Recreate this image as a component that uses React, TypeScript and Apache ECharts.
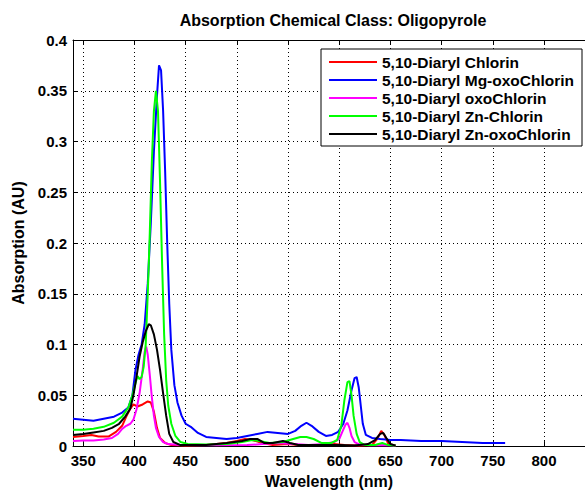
import React, { useEffect, useRef } from "react";
import * as echarts from "echarts";

const FONT = "'Liberation Sans', Arial, Helvetica, sans-serif";

const titleText = "Absorption Chemical Class: Oligopyrole";
const xName = "Wavelength (nm)";
const yName = "Absorption (AU)";

const seriesNames = [
  "5,10-Diaryl Chlorin",
  "5,10-Diaryl Mg-oxoChlorin",
  "5,10-Diaryl oxoChlorin",
  "5,10-Diaryl Zn-Chlorin",
  "5,10-Diaryl Zn-oxoChlorin",
];
const seriesColors = ["#ff0000", "#0000ff", "#ff00ff", "#00ff00", "#000000"];

const xTicks = [350, 400, 450, 500, 550, 600, 650, 700, 750, 800];

// 5,10-Diaryl Chlorin
const chlorinWl = [340, 350, 358, 365, 375, 382, 388, 392, 396, 399, 403, 408, 413, 416, 419, 422, 425, 430, 436, 450, 470, 490, 500, 508, 515, 525, 535, 550, 560, 580, 595, 605, 620, 632, 637, 641, 644, 648, 655];
const chlorinAbs = [0.009, 0.010, 0.011, 0.0095, 0.0095, 0.014, 0.020, 0.029, 0.037, 0.041, 0.039, 0.041, 0.044, 0.043, 0.034, 0.018, 0.008, 0.003, 0.001, 0.0005, 0.001, 0.003, 0.005, 0.007, 0.006, 0.003, 0.001, 0.002, 0.001, 0.001, 0.002, 0.001, 0.0005, 0.001, 0.007, 0.015, 0.011, 0.002, 0.0005];

// 5,10-Diaryl Mg-oxoChlorin
const mgOxoWl = [340, 350, 360, 370, 380, 388, 394, 398, 401, 404, 407, 410, 413, 416, 419, 422, 424, 426, 428, 430, 432, 434, 436, 439, 442, 446, 450, 455, 462, 470, 480, 490, 500, 510, 520, 530, 540, 550, 557, 563, 568, 573, 580, 587, 593, 599, 604, 608, 612, 615, 617, 619, 621, 623, 626, 632, 640, 650, 660, 680, 700, 720, 740, 762];
const mgOxoAbs = [0.027, 0.026, 0.025, 0.027, 0.029, 0.033, 0.038, 0.05, 0.075, 0.09, 0.10, 0.12, 0.16, 0.22, 0.29, 0.345, 0.375, 0.37, 0.33, 0.27, 0.2, 0.14, 0.095, 0.06, 0.043, 0.03, 0.022, 0.019, 0.013, 0.009, 0.008, 0.007, 0.008, 0.010, 0.012, 0.014, 0.013, 0.012, 0.015, 0.02, 0.023, 0.02, 0.014, 0.010, 0.011, 0.014, 0.022, 0.035, 0.055, 0.067, 0.068, 0.058, 0.04, 0.022, 0.011, 0.008, 0.007, 0.006, 0.006, 0.005, 0.005, 0.004, 0.003, 0.003];

// 5,10-Diaryl oxoChlorin
const oxoWl = [340, 350, 360, 370, 378, 384, 388, 392, 396, 399, 402, 405, 408, 410, 411.5, 413, 415, 417, 419, 421, 424, 428, 433, 445, 480, 510, 525, 540, 555, 570, 585, 595, 600, 603, 606, 608, 610, 612, 615, 620, 630, 645, 655];
const oxoAbs = [0.005, 0.0055, 0.0056, 0.0065, 0.008, 0.012, 0.017, 0.020, 0.022, 0.026, 0.036, 0.052, 0.075, 0.093, 0.098, 0.09, 0.07, 0.048, 0.03, 0.018, 0.009, 0.004, 0.002, 0.001, 0.0008, 0.001, 0.002, 0.003, 0.002, 0.001, 0.002, 0.004, 0.007, 0.014, 0.021, 0.023, 0.018, 0.01, 0.004, 0.0015, 0.0008, 0.001, 0.0005];

// 5,10-Diaryl Zn-Chlorin
const znWl = [340, 350, 360, 370, 380, 388, 394, 398, 401, 403, 405, 407, 409, 411, 413, 415, 417, 419, 421, 423, 425, 427, 429, 431, 433, 436, 440, 445, 452, 470, 490, 505, 515, 522, 532, 545, 555, 562, 568, 575, 583, 592, 598, 602, 605, 608, 610, 612, 614, 617, 620, 625, 635, 642, 648, 655];
const znAbs = [0.016, 0.016, 0.017, 0.019, 0.023, 0.029, 0.038, 0.05, 0.062, 0.069, 0.066, 0.068, 0.078, 0.10, 0.15, 0.21, 0.28, 0.33, 0.35, 0.33, 0.26, 0.18, 0.11, 0.065, 0.04, 0.022, 0.01, 0.004, 0.002, 0.0015, 0.002, 0.004, 0.006, 0.005, 0.003, 0.004, 0.007, 0.009, 0.009, 0.007, 0.003, 0.003, 0.006, 0.02, 0.045, 0.063, 0.064, 0.05, 0.03, 0.012, 0.004, 0.001, 0.001, 0.003, 0.001, 0.0005];

// 5,10-Diaryl Zn-oxoChlorin
const znOxoWl = [340, 350, 360, 370, 378, 385, 391, 396, 399, 402, 405, 408, 411, 414, 416, 419, 422, 425, 428, 431, 434, 438, 445, 470, 490, 505, 513, 520, 527, 535, 545, 552, 560, 580, 600, 615, 628, 635, 640, 643, 646, 650, 655];
const znOxoAbs = [0.011, 0.012, 0.0135, 0.015, 0.018, 0.022, 0.029, 0.037, 0.05, 0.068, 0.088, 0.102, 0.113, 0.12, 0.119, 0.11, 0.095, 0.075, 0.052, 0.03, 0.012, 0.004, 0.001, 0.001, 0.003, 0.005, 0.007, 0.007, 0.003, 0.003, 0.005, 0.003, 0.001, 0.001, 0.001, 0.0005, 0.002, 0.006, 0.012, 0.013, 0.008, 0.002, 0.0005];

const seriesWl = [chlorinWl, mgOxoWl, oxoWl, znWl, znOxoWl];
const seriesAbs = [chlorinAbs, mgOxoAbs, oxoAbs, znAbs, znOxoAbs];

const textBase = { fontFamily: FONT, fontWeight: "bold" as const, color: "#000" };

export default function App() {
  const ref = useRef<HTMLDivElement>(null);
  useEffect(() => {
    if (!ref.current) return;
    const chart = echarts.init(ref.current, null, { renderer: "svg" });
    const gridLine = { show: true, lineStyle: { type: [1, 3], color: "#000", width: 1 } };
    chart.setOption({
      animation: false,
      backgroundColor: "#fff",
      grid: { left: 73, top: 40, width: 521, height: 411, containLabel: false },
      graphic: [
        {
          type: "text",
          x: 333,
          y: 20,
          style: { text: titleText, textAlign: "center", textVerticalAlign: "middle", font: `bold 16px ${FONT}`, fill: "#000" },
        },
        {
          type: "rect",
          z: 3,
          shape: { x: 321, y: 49, width: 261, height: 97 },
          style: { fill: "#fff", stroke: "#000", lineWidth: 1 },
        },
      ],
      legend: {
        orient: "vertical",
        left: 329,
        top: 53,
        padding: 0,
        itemGap: 0,
        itemWidth: 48,
        itemHeight: 2,
        icon: "rect",
        z: 4,
        data: seriesNames,
        textStyle: { ...textBase, fontSize: 15.5, lineHeight: 18 },
      },
      xAxis: [
        {
          type: "value",
          min: 340,
          max: 840,
          position: "bottom",
          name: xName,
          nameLocation: "middle",
          nameGap: 23,
          nameTextStyle: { ...textBase, fontSize: 16 },
          axisLine: { show: true, onZero: false, lineStyle: { color: "#000", width: 1 } },
          axisTick: { show: true, inside: true, length: 5, customValues: xTicks, lineStyle: { color: "#000" } },
          axisLabel: { show: true, margin: 7, customValues: xTicks, ...textBase, fontSize: 15 },
          splitLine: gridLine,
        },
        {
          type: "value",
          min: 340,
          max: 840,
          position: "top",
          axisLine: { show: true, onZero: false, lineStyle: { color: "#000", width: 1 } },
          axisTick: { show: true, inside: true, length: 5, customValues: xTicks, lineStyle: { color: "#000" } },
          axisLabel: { show: false },
          splitLine: { show: false },
        },
      ],
      yAxis: {
        type: "value",
        min: 0,
        max: 0.4,
        interval: 0.05,
        name: yName,
        nameLocation: "middle",
        nameGap: 45,
        nameTextStyle: { ...textBase, fontSize: 16 },
        axisLine: { show: true, lineStyle: { color: "#000", width: 1 } },
        axisTick: { show: true, inside: true, length: 5, lineStyle: { color: "#000" } },
        axisLabel: {
          margin: 6,
          ...textBase,
          fontSize: 15,
          formatter: (v: number) => String(parseFloat(v.toFixed(2))),
        },
        splitLine: gridLine,
      },
      series: seriesNames.map((name, i) => ({
        name,
        type: "line",
        xAxisIndex: 0,
        symbol: "none",
        showSymbol: false,
        color: seriesColors[i],
        lineStyle: { color: seriesColors[i], width: 2 },
        data: seriesWl[i].map((w, j) => [w, seriesAbs[i][j]]),
      })),
    });
    return () => chart.dispose();
  }, []);
  return <div ref={ref} style={{ position: "fixed", left: 0, top: 0, width: 585, height: 494, background: "#fff" }} />;
}
